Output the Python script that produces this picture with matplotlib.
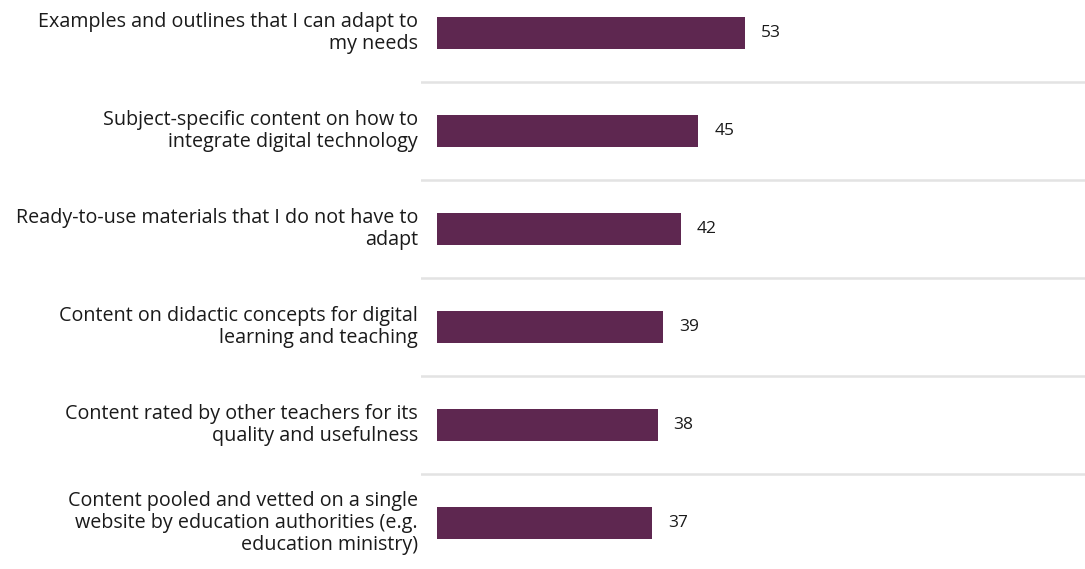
import matplotlib
matplotlib.use("Agg")
import matplotlib.pyplot as plt

categories = [
    "Examples and outlines that I can adapt to\nmy needs",
    "Subject-specific content on how to\nintegrate digital technology",
    "Ready-to-use materials that I do not have to\nadapt",
    "Content on didactic concepts for digital\nlearning and teaching",
    "Content rated by other teachers for its\nquality and usefulness",
    "Content pooled and vetted on a single\nwebsite by education authorities (e.g.\neducation ministry)",
]
values = [53, 45, 42, 39, 38, 37]

BAR_COLOR = "#5E2750"
GRID_COLOR = "#E3E3E3"
TEXT_COLOR = "#1A1A1A"

plt.rcParams["font.family"] = ["Open Sans", "DejaVu Sans"]

W, H = 1085, 569
fig = plt.figure(figsize=(W / 100, H / 100), dpi=100)
ax_left = 421
ax = fig.add_axes([ax_left / W, 0, (W - ax_left) / W, 1])

pos = list(range(len(values)))
ax.barh(pos, values, height=32 / 98, color=BAR_COLOR, zorder=2)

# px-per-unit scale on x, band of 98 px per category on y
px_per_unit = 307.6 / 53
zero_px = 437
ax.set_xlim(-(zero_px - ax_left) / px_per_unit, (W - zero_px) / px_per_unit)
ax.set_ylim((H - 33) / 98, -33 / 98)

for i in range(len(values) - 1):
    ax.axhline(i + 0.5, color=GRID_COLOR, linewidth=1.8, zorder=1)

for i, v in enumerate(values):
    ax.text(v + 16 / px_per_unit, i, f"{v}", va="center", ha="left",
            fontsize=12.5, color=TEXT_COLOR)
    ax.text(-(zero_px - 418) / px_per_unit, i, categories[i], va="center",
            ha="right", fontsize=14.2, color=TEXT_COLOR, linespacing=1.12,
            clip_on=False)

ax.set_axis_off()
fig.savefig("out.png", dpi=100)
